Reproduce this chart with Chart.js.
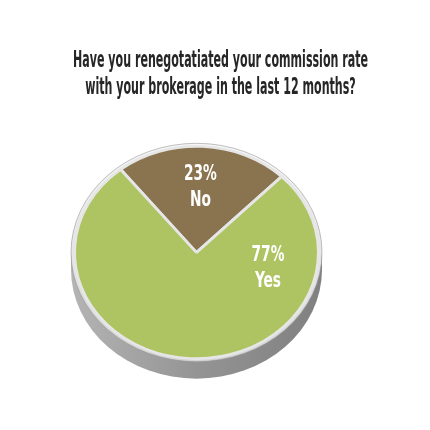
<!DOCTYPE html>
<html><head><meta charset="utf-8">
<script src="https://cdn.jsdelivr.net/npm/chart.js@4.4.1/dist/chart.umd.min.js"></script>
<style>html,body{margin:0;padding:0;background:#fff}canvas{display:block}</style>
</head><body>
<canvas id="c" width="430" height="430"></canvas>
<script>
const titleLines = ["Have you renegotatiated your commission rate", "with your brokerage in the last 12 months?"];
const categories = ["No", "Yes"];
const values = [23, 77];
const valueLabels = ["23%", "77%"];
const colors = ["#8a7450", "#aec462"];

const Y_SCALE = 0.87;
const DEPTH = 17;
const FONT = '"Liberation Sans Narrow", "DejaVu Sans Condensed", "Roboto Condensed", sans-serif';

function condensedText(ctx, text, cx, baseline, size, sx, color) {
  ctx.save();
  ctx.font = 'bold ' + size + 'px ' + FONT;
  ctx.translate(cx, baseline);
  ctx.scale(sx, 1);
  ctx.fillStyle = color;
  ctx.textAlign = 'center';
  ctx.textBaseline = 'alphabetic';
  ctx.fillText(text, 0, 0);
  ctx.restore();
}
function widthOf(ctx, text, size) {
  ctx.save();
  ctx.font = 'bold ' + size + 'px ' + FONT;
  const w = ctx.measureText(text).width;
  ctx.restore();
  return w;
}

const pie3d = {
  id: 'pie3d',
  beforeDatasetsDraw(chart) {
    const a = chart.getDatasetMeta(0).data[0];
    const cx = a.x, cy = a.y, R = a.outerRadius;
    const ctx = chart.ctx;
    const rx = R + 3.5, ry = (R + 3.5) * Y_SCALE;
    ctx.save();
    const g = ctx.createLinearGradient(cx - rx, 0, cx + rx, 0);
    g.addColorStop(0, '#b4b4b4'); g.addColorStop(0.5, '#949494'); g.addColorStop(1, '#808080');
    ctx.fillStyle = g;
    ctx.beginPath();
    ctx.ellipse(cx, cy + DEPTH, rx, ry, 0, 0, Math.PI * 2);
    ctx.fill();
    ctx.fillRect(cx - rx, cy, rx * 2, DEPTH);
    const g2 = ctx.createLinearGradient(0, cy - ry, 0, cy + ry);
    g2.addColorStop(0, '#f6f6f6'); g2.addColorStop(1, '#d4d4d4');
    ctx.fillStyle = g2;
    ctx.beginPath();
    ctx.ellipse(cx, cy, rx, ry, 0, 0, Math.PI * 2);
    ctx.fill();
    ctx.strokeStyle = 'rgba(150,150,150,0.6)';
    ctx.lineWidth = 1;
    ctx.stroke();
    ctx.restore();
    ctx.save();
    ctx.translate(cx, cy);
    ctx.scale(1, Y_SCALE);
    ctx.translate(-cx, -cy);
  },
  afterDatasetsDraw(chart) {
    chart.ctx.restore();
  },
  afterDraw(chart) {
    const ctx = chart.ctx;
    const tSize = 23;
    const sx = 295 / widthOf(ctx, titleLines[0], tSize);
    condensedText(ctx, titleLines[0], 220.5, 67, tSize, sx, '#262626');
    condensedText(ctx, titleLines[1], 220.5, 94, tSize, sx, '#262626');
    const lSize = 22;
    const lsx = 33 / widthOf(ctx, valueLabels[0], lSize);
    const meta = chart.getDatasetMeta(0);
    const anchors = [{f: 0.5, r: 0.637}, {f: 0.21, r: 0.6}];
    meta.data.forEach((arc, i) => {
      const ang = arc.startAngle + (arc.endAngle - arc.startAngle) * anchors[i].f;
      const x = arc.x + Math.cos(ang) * arc.outerRadius * anchors[i].r;
      const y = arc.y + Math.sin(ang) * arc.outerRadius * anchors[i].r * Y_SCALE;
      condensedText(ctx, valueLabels[i], x, y - 5, lSize, lsx, '#ffffff');
      condensedText(ctx, categories[i], x, y + 21, lSize, lsx, '#ffffff');
    });
  }
};

new Chart(document.getElementById('c'), {
  type: 'pie',
  data: {
    labels: categories,
    datasets: [{
      data: values,
      backgroundColor: colors,
      borderColor: '#e6e6e6',
      borderWidth: 3
    }]
  },
  options: {
    responsive: false,
    animation: false,
    events: [],
    rotation: -38.5,
    layout: { padding: { left: 73, right: 110, top: 129, bottom: 54 } },
    plugins: { legend: { display: false }, tooltip: { enabled: false }, title: { display: false } }
  },
  plugins: [pie3d]
});
</script>
</body></html>
